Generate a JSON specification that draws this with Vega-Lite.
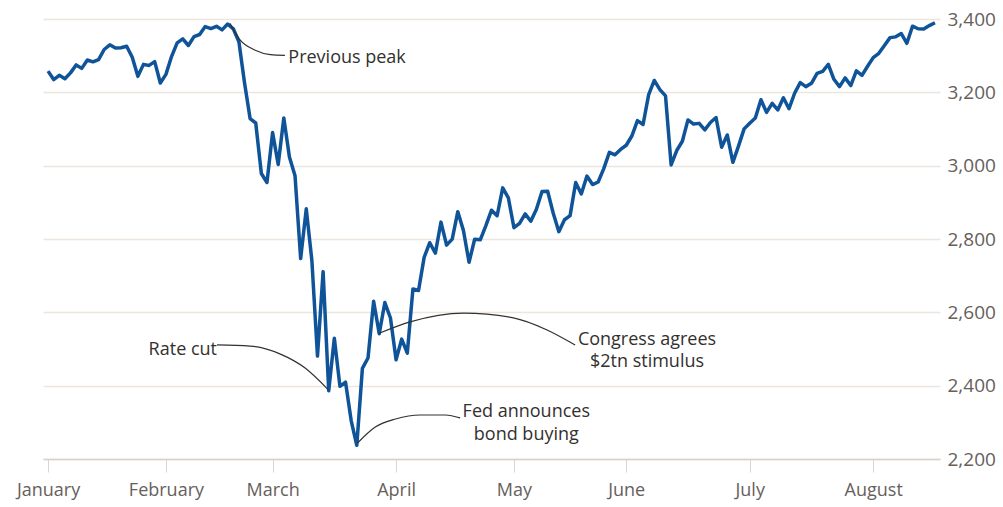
{
  "$schema": "https://vega.github.io/schema/vega-lite/v6.json",
  "width": 897,
  "height": 440,
  "autosize": {"type": "none"},
  "padding": {"left": 43, "top": 19, "right": 63, "bottom": 48},
  "background": "#ffffff",
  "config": {"view": {"stroke": null}, "font": "Open Sans"},
  "datasets": {
    "spx": [
      {"i":0,"date":"2020-01-02","close":3257.85},{"i":1,"date":"2020-01-03","close":3234.85},{"i":2,"date":"2020-01-06","close":3246.28},{"i":3,"date":"2020-01-07","close":3237.18},{"i":4,"date":"2020-01-08","close":3253.05},{"i":5,"date":"2020-01-09","close":3274.70},{"i":6,"date":"2020-01-10","close":3265.35},{"i":7,"date":"2020-01-13","close":3288.13},{"i":8,"date":"2020-01-14","close":3283.15},{"i":9,"date":"2020-01-15","close":3289.29},{"i":10,"date":"2020-01-16","close":3316.81},{"i":11,"date":"2020-01-17","close":3329.62},{"i":12,"date":"2020-01-21","close":3320.79},{"i":13,"date":"2020-01-22","close":3321.75},{"i":14,"date":"2020-01-23","close":3325.54},{"i":15,"date":"2020-01-24","close":3295.47},{"i":16,"date":"2020-01-27","close":3243.63},{"i":17,"date":"2020-01-28","close":3276.24},{"i":18,"date":"2020-01-29","close":3273.40},{"i":19,"date":"2020-01-30","close":3283.66},{"i":20,"date":"2020-01-31","close":3225.52},
      {"i":21,"date":"2020-02-03","close":3248.92},{"i":22,"date":"2020-02-04","close":3297.59},{"i":23,"date":"2020-02-05","close":3334.69},{"i":24,"date":"2020-02-06","close":3345.78},{"i":25,"date":"2020-02-07","close":3327.71},{"i":26,"date":"2020-02-10","close":3352.09},{"i":27,"date":"2020-02-11","close":3357.75},{"i":28,"date":"2020-02-12","close":3379.45},{"i":29,"date":"2020-02-13","close":3373.94},{"i":30,"date":"2020-02-14","close":3380.16},{"i":31,"date":"2020-02-18","close":3370.29},{"i":32,"date":"2020-02-19","close":3386.15},{"i":33,"date":"2020-02-20","close":3373.23},{"i":34,"date":"2020-02-21","close":3337.75},{"i":35,"date":"2020-02-24","close":3225.89},{"i":36,"date":"2020-02-25","close":3128.21},{"i":37,"date":"2020-02-26","close":3116.39},{"i":38,"date":"2020-02-27","close":2978.76},{"i":39,"date":"2020-02-28","close":2954.22},
      {"i":40,"date":"2020-03-02","close":3090.23},{"i":41,"date":"2020-03-03","close":3003.37},{"i":42,"date":"2020-03-04","close":3130.12},{"i":43,"date":"2020-03-05","close":3023.94},{"i":44,"date":"2020-03-06","close":2972.37},{"i":45,"date":"2020-03-09","close":2746.56},{"i":46,"date":"2020-03-10","close":2882.23},{"i":47,"date":"2020-03-11","close":2741.38},{"i":48,"date":"2020-03-12","close":2480.64},{"i":49,"date":"2020-03-13","close":2711.02},{"i":50,"date":"2020-03-16","close":2386.13},{"i":51,"date":"2020-03-17","close":2529.19},{"i":52,"date":"2020-03-18","close":2398.10},{"i":53,"date":"2020-03-19","close":2409.39},{"i":54,"date":"2020-03-20","close":2304.92},{"i":55,"date":"2020-03-23","close":2237.40},{"i":56,"date":"2020-03-24","close":2447.33},{"i":57,"date":"2020-03-25","close":2475.56},{"i":58,"date":"2020-03-26","close":2630.07},{"i":59,"date":"2020-03-27","close":2541.47},{"i":60,"date":"2020-03-30","close":2626.65},{"i":61,"date":"2020-03-31","close":2584.59},
      {"i":62,"date":"2020-04-01","close":2470.50},{"i":63,"date":"2020-04-02","close":2526.90},{"i":64,"date":"2020-04-03","close":2488.65},{"i":65,"date":"2020-04-06","close":2663.68},{"i":66,"date":"2020-04-07","close":2659.41},{"i":67,"date":"2020-04-08","close":2749.98},{"i":68,"date":"2020-04-09","close":2789.82},{"i":69,"date":"2020-04-13","close":2761.63},{"i":70,"date":"2020-04-14","close":2846.06},{"i":71,"date":"2020-04-15","close":2783.36},{"i":72,"date":"2020-04-16","close":2799.55},{"i":73,"date":"2020-04-17","close":2874.56},{"i":74,"date":"2020-04-20","close":2823.16},{"i":75,"date":"2020-04-21","close":2736.56},{"i":76,"date":"2020-04-22","close":2799.31},{"i":77,"date":"2020-04-23","close":2797.80},{"i":78,"date":"2020-04-24","close":2836.74},{"i":79,"date":"2020-04-27","close":2878.48},{"i":80,"date":"2020-04-28","close":2863.39},{"i":81,"date":"2020-04-29","close":2939.51},{"i":82,"date":"2020-04-30","close":2912.43},
      {"i":83,"date":"2020-05-01","close":2830.71},{"i":84,"date":"2020-05-04","close":2842.74},{"i":85,"date":"2020-05-05","close":2868.44},{"i":86,"date":"2020-05-06","close":2848.42},{"i":87,"date":"2020-05-07","close":2881.19},{"i":88,"date":"2020-05-08","close":2929.80},{"i":89,"date":"2020-05-11","close":2930.32},{"i":90,"date":"2020-05-12","close":2870.12},{"i":91,"date":"2020-05-13","close":2820.00},{"i":92,"date":"2020-05-14","close":2852.50},{"i":93,"date":"2020-05-15","close":2863.70},{"i":94,"date":"2020-05-18","close":2953.91},{"i":95,"date":"2020-05-19","close":2922.94},{"i":96,"date":"2020-05-20","close":2971.61},{"i":97,"date":"2020-05-21","close":2948.51},{"i":98,"date":"2020-05-22","close":2955.45},{"i":99,"date":"2020-05-26","close":2991.77},{"i":100,"date":"2020-05-27","close":3036.13},{"i":101,"date":"2020-05-28","close":3029.73},{"i":102,"date":"2020-05-29","close":3044.31},
      {"i":103,"date":"2020-06-01","close":3055.73},{"i":104,"date":"2020-06-02","close":3080.82},{"i":105,"date":"2020-06-03","close":3122.87},{"i":106,"date":"2020-06-04","close":3112.35},{"i":107,"date":"2020-06-05","close":3193.93},{"i":108,"date":"2020-06-08","close":3232.39},{"i":109,"date":"2020-06-09","close":3207.18},{"i":110,"date":"2020-06-10","close":3190.14},{"i":111,"date":"2020-06-11","close":3002.10},{"i":112,"date":"2020-06-12","close":3041.31},{"i":113,"date":"2020-06-15","close":3066.59},{"i":114,"date":"2020-06-16","close":3124.74},{"i":115,"date":"2020-06-17","close":3113.49},{"i":116,"date":"2020-06-18","close":3115.34},{"i":117,"date":"2020-06-19","close":3097.74},{"i":118,"date":"2020-06-22","close":3117.86},{"i":119,"date":"2020-06-23","close":3131.29},{"i":120,"date":"2020-06-24","close":3050.33},{"i":121,"date":"2020-06-25","close":3083.76},{"i":122,"date":"2020-06-26","close":3009.05},{"i":123,"date":"2020-06-29","close":3053.24},{"i":124,"date":"2020-06-30","close":3100.29},
      {"i":125,"date":"2020-07-01","close":3115.86},{"i":126,"date":"2020-07-02","close":3130.01},{"i":127,"date":"2020-07-06","close":3179.72},{"i":128,"date":"2020-07-07","close":3145.32},{"i":129,"date":"2020-07-08","close":3169.94},{"i":130,"date":"2020-07-09","close":3152.05},{"i":131,"date":"2020-07-10","close":3185.04},{"i":132,"date":"2020-07-13","close":3155.22},{"i":133,"date":"2020-07-14","close":3197.52},{"i":134,"date":"2020-07-15","close":3226.56},{"i":135,"date":"2020-07-16","close":3215.57},{"i":136,"date":"2020-07-17","close":3224.73},{"i":137,"date":"2020-07-20","close":3251.84},{"i":138,"date":"2020-07-21","close":3257.30},{"i":139,"date":"2020-07-22","close":3276.02},{"i":140,"date":"2020-07-23","close":3235.66},{"i":141,"date":"2020-07-24","close":3215.63},{"i":142,"date":"2020-07-27","close":3239.41},{"i":143,"date":"2020-07-28","close":3218.44},{"i":144,"date":"2020-07-29","close":3258.44},{"i":145,"date":"2020-07-30","close":3246.22},{"i":146,"date":"2020-07-31","close":3271.12},
      {"i":147,"date":"2020-08-03","close":3294.61},{"i":148,"date":"2020-08-04","close":3306.51},{"i":149,"date":"2020-08-05","close":3327.77},{"i":150,"date":"2020-08-06","close":3349.16},{"i":151,"date":"2020-08-07","close":3351.28},{"i":152,"date":"2020-08-10","close":3360.47},{"i":153,"date":"2020-08-11","close":3333.69},{"i":154,"date":"2020-08-12","close":3380.35},{"i":155,"date":"2020-08-13","close":3373.43},{"i":156,"date":"2020-08-14","close":3372.85},{"i":157,"date":"2020-08-17","close":3381.99},{"i":158,"date":"2020-08-18","close":3389.78}
    ],
    "connectors": [
      {"id":"peak","k":0,"i":32.4,"v":3388},{"id":"peak","k":1,"i":34.2,"v":3343},{"id":"peak","k":2,"i":36.9,"v":3315},{"id":"peak","k":3,"i":39.6,"v":3303},{"id":"peak","k":4,"i":42.2,"v":3301},
      {"id":"rate","k":0,"i":30.1,"v":2511},{"id":"rate","k":1,"i":36.0,"v":2508},{"id":"rate","k":2,"i":41.4,"v":2486},{"id":"rate","k":3,"i":45.8,"v":2448},{"id":"rate","k":4,"i":49.9,"v":2389},
      {"id":"fed","k":0,"i":55.1,"v":2243},{"id":"fed","k":1,"i":58.3,"v":2287},{"id":"fed","k":2,"i":61.9,"v":2309},{"id":"fed","k":3,"i":66.3,"v":2320},{"id":"fed","k":4,"i":70.8,"v":2320},{"id":"fed","k":5,"i":73.4,"v":2312},
      {"id":"congress","k":0,"i":59.0,"v":2543},{"id":"congress","k":1,"i":64.5,"v":2574},{"id":"congress","k":2,"i":74.0,"v":2598},{"id":"congress","k":3,"i":82.9,"v":2585},{"id":"congress","k":4,"i":88.9,"v":2552},{"id":"congress","k":5,"i":93.9,"v":2511}
    ],
    "labelsLeft": [{"i":42.8,"v":3293,"t":"Previous peak"}],
    "labelsRight": [{"i":30.1,"v":2497,"t":"Rate cut"}],
    "labelsCenter": [
      {"i":85.2,"v":2328,"t":"Fed announces"},{"i":85.2,"v":2265,"t":"bond buying"},
      {"i":106.7,"v":2524,"t":"Congress agrees"},{"i":106.7,"v":2464,"t":"$2tn stimulus"}
    ]
  },
  "layer": [
    {
      "data": {"name": "spx"},
      "mark": {"type": "line", "color": "#0f5499", "strokeWidth": 3.5, "strokeJoin": "round"},
      "encoding": {
        "x": {
          "field": "i", "type": "quantitative",
          "scale": {"domain": [-0.9, 158.9], "nice": false, "zero": false},
          "axis": {
            "title": null, "grid": false,
            "values": [0, 21, 40, 62, 83, 103, 125, 147],
            "labelExpr": "['January','February','March','April','May','June','July','August'][indexof([0,21,40,62,83,103,125,147], datum.value)]",
            "domain": true, "domainColor": "#d9d0c7", "domainWidth": 1.5,
            "ticks": true, "tickColor": "#ddd5cc", "tickSize": 13, "tickWidth": 1,
            "labelFontSize": 18, "labelColor": "#66605c", "labelPadding": 9,
            "labelFont": "Open Sans", "labelFontWeight": "normal"
          }
        },
        "y": {
          "field": "close", "type": "quantitative",
          "scale": {"domain": [2200, 3400], "nice": false, "zero": false},
          "axis": {
            "title": null, "orient": "right",
            "values": [2200, 2400, 2600, 2800, 3000, 3200, 3400],
            "format": ",d",
            "grid": true, "gridColor": "#ece6df", "gridWidth": 1.3,
            "domain": false, "ticks": false,
            "labelFontSize": 19, "labelColor": "#66605c", "labelPadding": 7,
            "labelFont": "Open Sans", "labelFontWeight": "normal"
          }
        }
      }
    },
    {
      "data": {"name": "connectors"},
      "mark": {"type": "line", "color": "#33302e", "strokeWidth": 1.2, "interpolate": "monotone"},
      "encoding": {
        "x": {"field": "i", "type": "quantitative"},
        "y": {"field": "v", "type": "quantitative"},
        "detail": {"field": "id"},
        "order": {"field": "k", "type": "quantitative"}
      }
    },
    {
      "data": {"name": "labelsLeft"},
      "mark": {"type": "text", "align": "left", "baseline": "middle", "fontSize": 18, "color": "#33302e", "font": "Open Sans"},
      "encoding": {
        "x": {"field": "i", "type": "quantitative"},
        "y": {"field": "v", "type": "quantitative"},
        "text": {"field": "t"}
      }
    },
    {
      "data": {"name": "labelsRight"},
      "mark": {"type": "text", "align": "right", "baseline": "middle", "fontSize": 18, "color": "#33302e", "font": "Open Sans"},
      "encoding": {
        "x": {"field": "i", "type": "quantitative"},
        "y": {"field": "v", "type": "quantitative"},
        "text": {"field": "t"}
      }
    },
    {
      "data": {"name": "labelsCenter"},
      "mark": {"type": "text", "align": "center", "baseline": "middle", "fontSize": 18, "color": "#33302e", "font": "Open Sans"},
      "encoding": {
        "x": {"field": "i", "type": "quantitative"},
        "y": {"field": "v", "type": "quantitative"},
        "text": {"field": "t"}
      }
    }
  ]
}
